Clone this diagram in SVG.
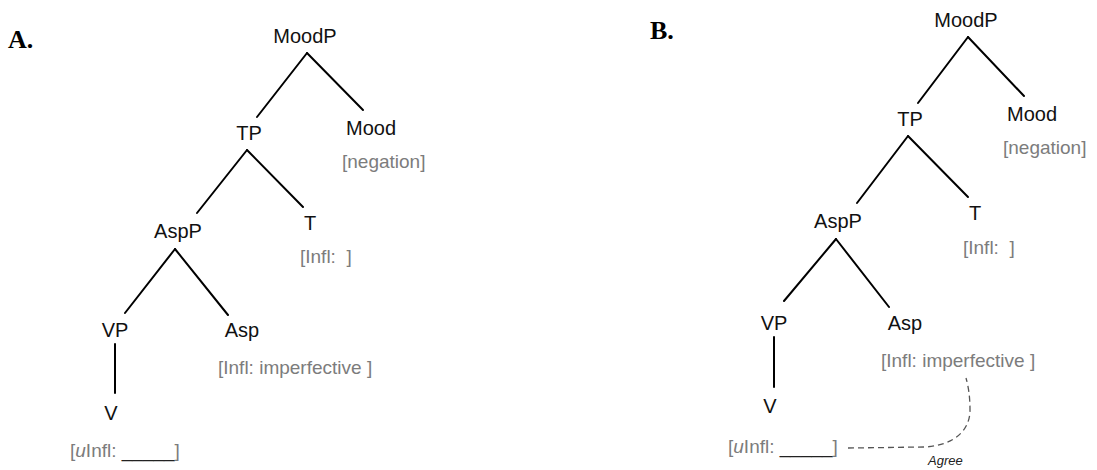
<svg xmlns="http://www.w3.org/2000/svg" width="1097" height="470" viewBox="0 0 1097 470">
  <style>
    .panel { font-family: "Liberation Serif", "Times New Roman", serif; font-weight: bold; font-size: 26px; fill: #000; }
    .cat { font-family: "Liberation Sans", Arial, sans-serif; font-size: 20px; fill: #111; text-anchor: middle; }
    .feat { font-family: "Liberation Sans", Arial, sans-serif; font-size: 19px; fill: #7c7c7c; }
    .blank { fill: #222; }
    .branch { stroke: #000; stroke-width: 2; fill: none; stroke-linecap: round; }
    .agree { stroke: #555; stroke-width: 1.3; fill: none; stroke-dasharray: 6 4; }
    .agree-label { font-family: "Liberation Sans", Arial, sans-serif; font-size: 13px; font-style: italic; fill: #222; }
  </style>

  <rect width="1097" height="470" fill="#fff"/>

  <!-- Panel labels -->
  <text class="panel" x="8" y="48">A.</text>
  <text class="panel" x="650" y="39">B.</text>

  <!-- Tree A -->
  <g id="treeA-edges">
    <line class="branch" x1="307" y1="53" x2="257" y2="117"/>
    <line class="branch" x1="307" y1="53" x2="363" y2="110"/>
    <line class="branch" x1="247" y1="150" x2="197" y2="213"/>
    <line class="branch" x1="247" y1="150" x2="303" y2="207"/>
    <line class="branch" x1="175" y1="249" x2="125" y2="313"/>
    <line class="branch" x1="175" y1="249" x2="228" y2="315"/>
    <line class="branch" x1="115" y1="344" x2="115" y2="393"/>
  </g>
  <g id="a-moodp"><text class="cat" x="305" y="43">MoodP</text></g>
  <g id="a-tp"><text class="cat" x="249" y="140">TP</text></g>
  <g id="a-mood">
    <text class="cat" x="371" y="135">Mood</text>
    <text class="feat" x="342" y="168">[negation]</text>
  </g>
  <g id="a-aspp"><text class="cat" x="178" y="238">AspP</text></g>
  <g id="a-t">
    <text class="cat" x="310" y="230">T</text>
    <text class="feat" x="300" y="263">[Infl:&#160;&#160;]</text>
  </g>
  <g id="a-vp"><text class="cat" x="115" y="337">VP</text></g>
  <g id="a-asp">
    <text class="cat" x="242" y="337">Asp</text>
    <text class="feat" x="218" y="374">[Infl: imperfective ]</text>
  </g>
  <g id="a-v">
    <text class="cat" x="111" y="420">V</text>
    <text class="feat" x="70" y="457">[<tspan font-style="italic">u</tspan>Infl: <tspan class="blank">_____</tspan>]</text>
  </g>

  <!-- Tree B -->
  <g id="treeB-edges">
    <line class="branch" x1="968" y1="37" x2="918" y2="103"/>
    <line class="branch" x1="968" y1="37" x2="1024" y2="96"/>
    <line class="branch" x1="908" y1="136" x2="857" y2="203"/>
    <line class="branch" x1="908" y1="136" x2="968" y2="197"/>
    <line class="branch" x1="836" y1="239" x2="784" y2="301"/>
    <line class="branch" x1="836" y1="239" x2="889" y2="307"/>
    <line class="branch" x1="774" y1="337" x2="774" y2="387"/>
    <path class="agree" d="M 848 448 L 925 447 C 955 445 970 430 970 410 C 970 395 968 385 966 378"/>
    <text class="agree-label" x="928" y="465">Agree</text>
  </g>
  <g id="b-moodp"><text class="cat" x="966" y="27">MoodP</text></g>
  <g id="b-tp"><text class="cat" x="910" y="126">TP</text></g>
  <g id="b-mood">
    <text class="cat" x="1032" y="121">Mood</text>
    <text class="feat" x="1003" y="154">[negation]</text>
  </g>
  <g id="b-aspp"><text class="cat" x="838" y="228">AspP</text></g>
  <g id="b-t">
    <text class="cat" x="975" y="220">T</text>
    <text class="feat" x="963" y="254">[Infl:&#160;&#160;]</text>
  </g>
  <g id="b-vp"><text class="cat" x="774" y="330">VP</text></g>
  <g id="b-asp">
    <text class="cat" x="905" y="330">Asp</text>
    <text class="feat" x="881" y="367">[Infl: imperfective ]</text>
  </g>
  <g id="b-v">
    <text class="cat" x="770" y="413">V</text>
    <text class="feat" x="728" y="453">[<tspan font-style="italic">u</tspan>Infl: <tspan class="blank">_____</tspan>]</text>
  </g>
</svg>
